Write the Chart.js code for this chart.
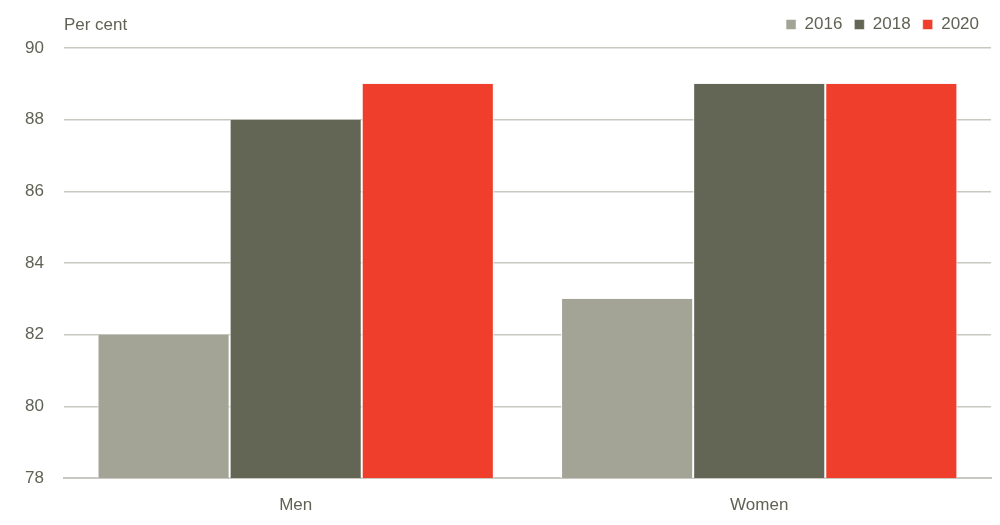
<!DOCTYPE html>
<html>
<head>
<meta charset="utf-8">
<script src="https://cdn.jsdelivr.net/npm/chart.js@4.4.1/dist/chart.umd.min.js"></script>
<style>
html,body{margin:0;padding:0;background:#fff;}
#wrap{width:1000px;height:525px;position:relative;}
</style>
</head>
<body>
<div id="wrap"><canvas id="c"></canvas></div>
<script>
const categories = ["Men", "Women"];
const seriesNames = ["2016", "2018", "2020"];
const values2016 = [82, 83];
const values2018 = [88, 89];
const values2020 = [89, 89];
const yTicks = [78, 80, 82, 84, 86, 88, 90];
const unitLabel = "Per cent";

const FONT = "'Liberation Sans Narrow', 'Arial Narrow', 'Liberation Sans', Arial, sans-serif";
const TXT = '#5f6354';

const unitPlugin = {
  id: 'unit',
  afterDraw(chart) {
    const ctx = chart.ctx;
    ctx.save();
    ctx.font = "17px " + FONT;
    ctx.fillStyle = TXT;
    ctx.textBaseline = 'middle';
    ctx.textAlign = 'left';
    ctx.fillText(unitLabel, chart.chartArea.left, 25);
    ctx.restore();
  }
};

const legendPad = {
  id: 'legendPad',
  beforeInit(chart) {
    const origFit = chart.legend.fit;
    chart.legend.fit = function () {
      origFit.bind(chart.legend)();
      this.height += 5;
    };
  }
};

new Chart(document.getElementById('c'), {
  type: 'bar',
  data: {
    labels: categories,
    datasets: [
      { label: seriesNames[0], data: values2016, backgroundColor: '#a3a496', borderColor: '#ffffff', borderWidth: {left:1,right:1,top:0,bottom:0} },
      { label: seriesNames[1], data: values2018, backgroundColor: '#636555', borderColor: '#ffffff', borderWidth: {left:1,right:1,top:0,bottom:0} },
      { label: seriesNames[2], data: values2020, backgroundColor: '#ef3e2c', borderColor: '#ffffff', borderWidth: {left:1,right:1,top:0,bottom:0} }
    ]
  },
  options: {
    responsive: true,
    maintainAspectRatio: false,
    animation: false,
    layout: { padding: { left: 5, right: 9, top: 4, bottom: 0 } },
    datasets: { bar: { barPercentage: 1.0, categoryPercentage: 0.855 } },
    plugins: {
      legend: {
        position: 'top',
        align: 'end',
        labels: {
          boxWidth: 10, boxHeight: 10, padding: 12,
          color: TXT,
          font: { family: FONT, size: 17 }
        }
      },
      tooltip: { enabled: false }
    },
    scales: {
      x: {
        afterFit(axis) { axis.height = 47; },
        grid: { display: false, drawTicks: false },
        border: { display: true, color: '#c8c8c0', width: 2 },
        ticks: { color: TXT, font: { family: FONT, size: 17 }, padding: 17 }
      },
      y: {
        min: 78, max: 90,
        afterBuildTicks(axis) { axis.ticks = yTicks.map(v => ({ value: v })); },
        grid: { color: '#c8c8c0', lineWidth: 1.5, drawTicks: false },
        border: { display: false },
        ticks: { color: TXT, font: { family: FONT, size: 17 }, padding: 20 }
      }
    }
  },
  plugins: [unitPlugin, legendPad]
});
</script>
</body>
</html>
